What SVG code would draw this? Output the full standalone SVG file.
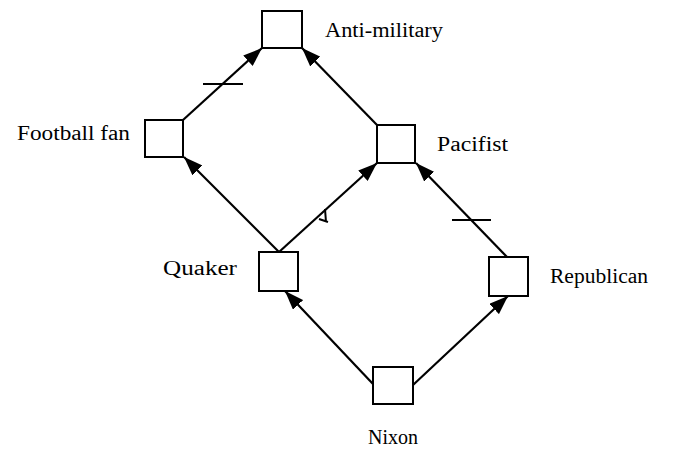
<svg xmlns="http://www.w3.org/2000/svg" width="673" height="452" viewBox="0 0 673 452">
  <style>
    .node rect { fill: #ffffff; stroke: #000000; stroke-width: 2; }
    .label { font-family: "Liberation Serif", "Times New Roman", serif; font-size: 20px; fill: #000000; }
    .edge { stroke: #000000; stroke-width: 2.2; fill: none; }
    .cancel { stroke: #000000; stroke-width: 2; fill: none; }
  </style>
  <defs>
    <marker id="arrow" markerUnits="userSpaceOnUse" markerWidth="19" markerHeight="14" refX="19" refY="7" orient="auto">
      <path d="M0,0 L19,7 L0,14 z" fill="#000000"/>
    </marker>
  </defs>
  <rect width="673" height="452" fill="#ffffff"/>

  <!-- connectors -->
  <g id="connectors">
    <line class="edge" x1="183" y1="120" x2="262" y2="48" marker-end="url(#arrow)"/>
    <line class="edge" x1="377" y1="125" x2="302" y2="48" marker-end="url(#arrow)"/>
    <line class="edge" x1="279" y1="252" x2="184" y2="157" marker-end="url(#arrow)"/>
    <line class="edge" x1="279" y1="252" x2="377" y2="163" marker-end="url(#arrow)"/>
    <line class="edge" x1="507" y1="257" x2="416" y2="163" marker-end="url(#arrow)"/>
    <line class="edge" x1="373" y1="384" x2="285" y2="291" marker-end="url(#arrow)"/>
    <line class="edge" x1="413" y1="385" x2="508" y2="296" marker-end="url(#arrow)"/>
    <!-- cancellation ticks -->
    <line class="cancel" x1="203" y1="84" x2="243" y2="84"/>
    <line class="cancel" x1="452" y1="220" x2="491" y2="220"/>
    <path class="cancel" d="M325,209 L326,222 M319,219 L328,222" stroke-width="1.5"/>
  </g>

  <g id="anti-military" class="node">
    <rect x="262" y="11" width="40" height="37"/>
    <text class="label" x="325" y="37" textLength="118" lengthAdjust="spacingAndGlyphs">Anti-military</text>
  </g>
  <g id="football-fan" class="node">
    <rect x="145" y="120" width="38" height="37"/>
    <text class="label" x="17" y="140" font-size="21" textLength="113" lengthAdjust="spacingAndGlyphs">Football fan</text>
  </g>
  <g id="pacifist" class="node">
    <rect x="377" y="125" width="38" height="38"/>
    <text class="label" x="437" y="151" textLength="71" lengthAdjust="spacingAndGlyphs">Pacifist</text>
  </g>
  <g id="quaker" class="node">
    <rect x="259" y="252" width="39" height="39"/>
    <text class="label" x="163" y="275" textLength="74" lengthAdjust="spacingAndGlyphs">Quaker</text>
  </g>
  <g id="republican" class="node">
    <rect x="489" y="257" width="39" height="39"/>
    <text class="label" x="550" y="283" textLength="98" lengthAdjust="spacingAndGlyphs">Republican</text>
  </g>
  <g id="nixon" class="node">
    <rect x="373" y="367" width="40" height="37"/>
    <text class="label" x="368" y="444">Nixon</text>
  </g>
</svg>
